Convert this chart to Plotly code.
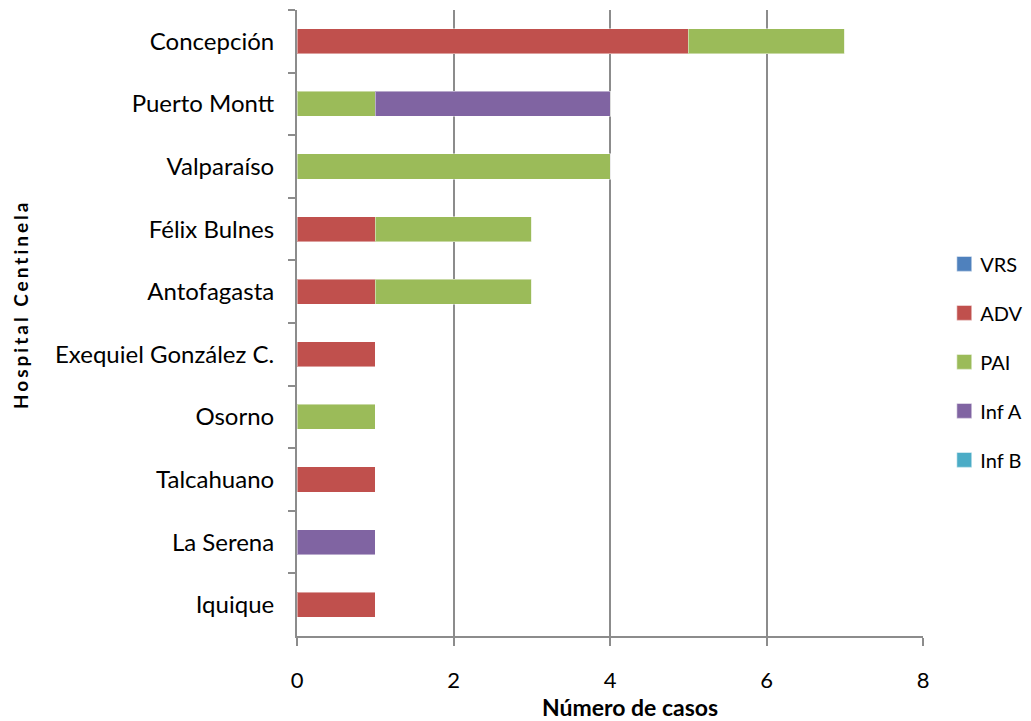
import plotly.graph_objects as go

hospitals = ["Concepción", "Puerto Montt", "Valparaíso", "Félix Bulnes", "Antofagasta",
             "Exequiel González C.", "Osorno", "Talcahuano", "La Serena", "Iquique"]
vrs  = [0, 0, 0, 0, 0, 0, 0, 0, 0, 0]
adv  = [5, 0, 0, 1, 1, 1, 0, 1, 0, 1]
pai  = [2, 1, 4, 2, 2, 0, 1, 0, 0, 0]
infa = [0, 3, 0, 0, 0, 0, 0, 0, 1, 0]
infb = [0, 0, 0, 0, 0, 0, 0, 0, 0, 0]

series = [("VRS", vrs, "#4F81BD"), ("ADV", adv, "#C0504D"), ("PAI", pai, "#9BBB59"),
          ("Inf A", infa, "#8064A2"), ("Inf B", infb, "#4BACC6")]

FONT = "Lato"
fig = go.Figure()
for i, (name, vals, col) in enumerate(series):
    fig.add_trace(go.Bar(
        y=hospitals, x=vals, name=name, orientation="h",
        marker=dict(color=col, line=dict(color="rgba(255,255,255,0.45)", width=1)),
        legendgroup=f"g{i}",
    ))

fig.update_layout(
    width=1031, height=721,
    barmode="stack", bargap=0.6,
    plot_bgcolor="white", paper_bgcolor="white",
    margin=dict(l=297, r=108, t=10, b=85),
    font=dict(family=FONT, color="black", size=21),
    showlegend=True,
    legend=dict(xref="container", yref="container", x=0.912, xanchor="left",
                y=0.498, yanchor="middle",
                font=dict(size=20, family=FONT), tracegroupgap=20,
                itemwidth=30, bgcolor="rgba(0,0,0,0)"),
    xaxis=dict(range=[0, 8], dtick=2, tick0=0, showgrid=True, gridcolor="#8C8C8C",
               gridwidth=2, showline=True, linecolor="#8C8C8C", linewidth=2,
               ticks="outside", ticklen=8, tickwidth=2, tickcolor="#8C8C8C",
               tickfont=dict(size=22, family=FONT), ticklabelstandoff=16,
               zeroline=False, automargin=False),
    yaxis=dict(autorange="reversed", showline=True, linecolor="#8C8C8C", linewidth=2,
               ticks="outside", ticklen=7, tickwidth=2, tickcolor="#8C8C8C",
               tickson="boundaries", showgrid=False, automargin=False,
               tickfont=dict(size=24, family=FONT), ticklabelstandoff=16),
)

fig.add_annotation(text="<b>Hospital Centinela</b>", textangle=-90,
                   x=-0.4425, y=0.53, xref="paper", yref="paper",
                   xanchor="center", yanchor="middle", showarrow=False,
                   font=dict(size=19, family=FONT))
fig.add_annotation(text="<b>Número de casos</b>",
                   x=0.532, y=-0.1134, xref="paper", yref="paper",
                   xanchor="center", yanchor="middle", showarrow=False,
                   font=dict(size=23, family=FONT))

post = ("document.body.style.margin='0';"
        "document.querySelectorAll('.annotation-text').forEach(function(e){"
        "if (e.textContent.indexOf('Hospital') === 0) e.style.letterSpacing='3px';});"
        "document.querySelectorAll('.legendpoints path').forEach(function(p){"
        "p.setAttribute('transform', 'translate(24,0) scale(1.25)');});")
fig.write_html("out.html", post_script=post, config={"displayModeBar": False})
